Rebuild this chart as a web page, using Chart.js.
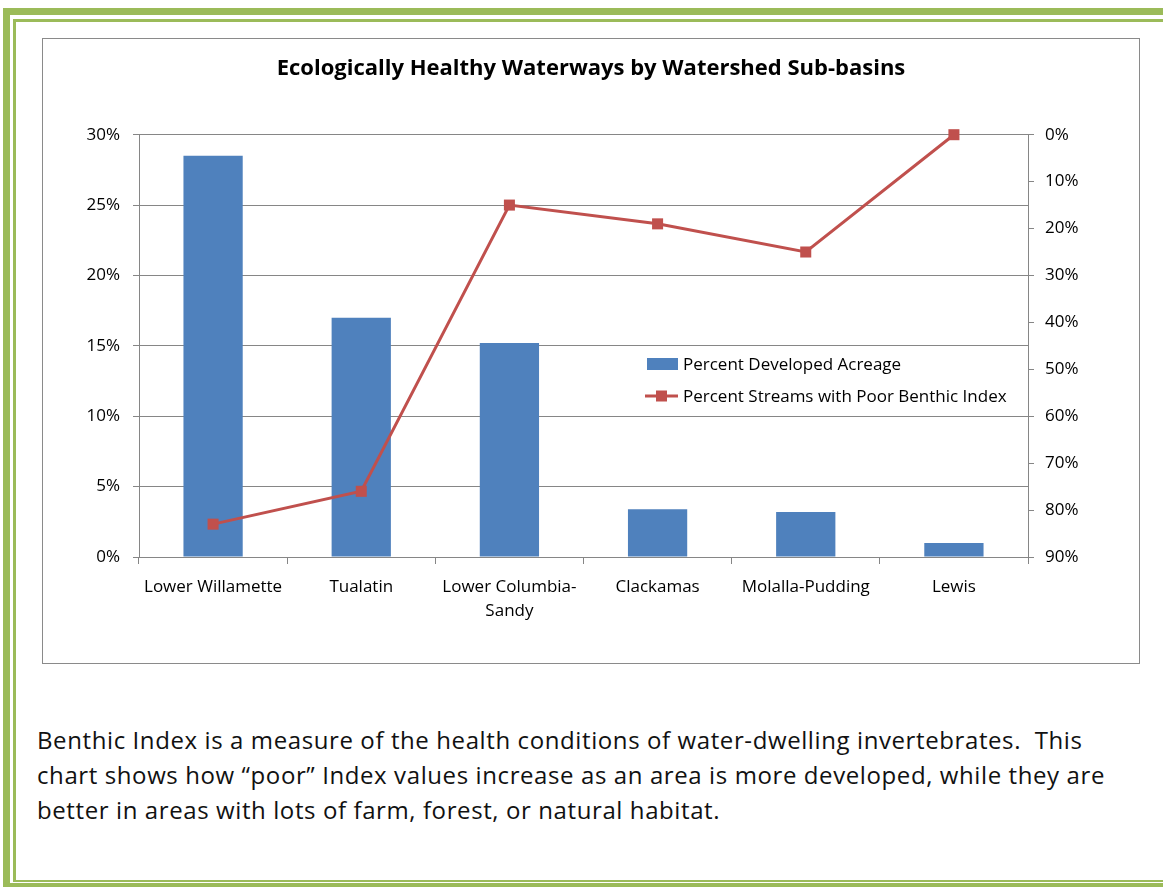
<!DOCTYPE html>
<html>
<head>
<meta charset="utf-8">
<script src="https://cdn.jsdelivr.net/npm/chart.js@4.4.1/dist/chart.umd.min.js"></script>
<style>
    html, body { margin: 0; padding: 0; background: #fff; }
    body { width: 1163px; height: 887px; position: relative; overflow: hidden; font-family: "Open Sans", sans-serif; }
    .frame-thick { position: absolute; left: 3px; top: 8px; width: 1200px; height: 882px; box-sizing: border-box; border: 7px solid #9bbb59; }
    .frame-thin  { position: absolute; left: 13px; top: 19px; width: 1200px; height: 863px; box-sizing: border-box; border: 3px solid #9bbb59; border-bottom-width: 2px; }
    .chart-box { position: absolute; left: 42px; top: 38px; width: 1098px; height: 626px; box-sizing: border-box; border: 1px solid #8a8a8a; background: #fff; }
    .chart-box canvas { display: block; }
    .note { position: absolute; left: 37px; top: 722px; width: 1120px; margin: 0; font-size: 24px; letter-spacing: 0.6px; line-height: 35px; color: #111; white-space: nowrap; }
</style>
</head>
<body>
<div class="frame-thick"></div>
<div class="frame-thin"></div>
<div class="chart-box"><canvas id="waterChart" width="1096" height="624"></canvas></div>
<p class="note">Benthic Index is a measure of the health conditions of water-dwelling invertebrates.&nbsp; This<br>chart shows how “poor” Index values increase as an area is more developed, while they are<br>better in areas with lots of farm, forest, or natural habitat.</p>

<script>
// ── Data ─────────────────────────────────────────────────────────────────────
const SUBBASINS    = ['Lower Willamette', 'Tualatin', ['Lower Columbia-', 'Sandy'], 'Clackamas', 'Molalla-Pudding', 'Lewis'];
const DEVELOPED    = [28.5, 17.0, 15.2, 3.4, 3.2, 1.0];   // % developed acreage (left axis)
const POOR_BENTHIC = [83, 76, 15, 19, 25, 0];             // % streams w/ poor benthic index (right axis, reversed)
const LEFT_TICKS   = [0, 5, 10, 15, 20, 25, 30];
const RIGHT_TICKS  = [0, 10, 20, 30, 40, 50, 60, 70, 80, 90];

const SERIES_NAMES = ['Percent Developed Acreage', 'Percent Streams with Poor Benthic Index'];
const BLUE = '#4f81bd';
const RED  = '#c0504d';
const GRID = '#868686';
const FONT = '"Open Sans", sans-serif';

// Legend sits inside the plot area, like Excel does it.
const legendInPlot = {
    id: 'legendInPlot',
    afterDatasetsDraw(chart) {
        const ctx = chart.ctx;
        const x = 602, y1 = 325, y2 = 357;
        ctx.save();
        ctx.font = `17px ${FONT}`;
        ctx.textBaseline = 'middle';

        ctx.fillStyle = BLUE;
        ctx.fillRect(x + 2, y1 - 6, 31, 12);
        ctx.fillStyle = '#000';
        ctx.fillText(SERIES_NAMES[0], x + 38, y1 + 1);

        ctx.strokeStyle = RED;
        ctx.lineWidth = 3;
        ctx.beginPath(); ctx.moveTo(x, y2); ctx.lineTo(x + 33, y2); ctx.stroke();
        ctx.fillStyle = RED;
        ctx.fillRect(x + 11, y2 - 5.5, 11, 11);
        ctx.fillStyle = '#000';
        ctx.fillText(SERIES_NAMES[1], x + 38, y2 + 1);
        ctx.restore();
    },
};

new Chart(document.getElementById('waterChart'), {
    type: 'bar',
    data: {
        labels: SUBBASINS,
        datasets: [
            {
                type: 'line', label: SERIES_NAMES[1], data: POOR_BENTHIC, yAxisID: 'y1', order: 0,
                borderColor: RED, borderWidth: 3, tension: 0, clip: false,
                pointStyle: 'rect', pointRadius: 7.8, pointBackgroundColor: RED, pointBorderColor: RED, pointBorderWidth: 0,
            },
            {
                type: 'bar', label: SERIES_NAMES[0], data: DEVELOPED, yAxisID: 'y', order: 1,
                backgroundColor: BLUE, categoryPercentage: 1, barPercentage: 0.4,
            },
        ],
    },
    plugins: [legendInPlot],
    options: {
        responsive: false,
        animation: false,
        layout: { padding: { left: 0, right: 0, top: 0, bottom: 0 } },
        plugins: {
            legend: { display: false },
            tooltip: { enabled: false },
            title: {
                display: true,
                text: 'Ecologically Healthy Waterways by Watershed Sub-basins',
                color: '#000',
                font: { family: FONT, size: 22, weight: 'bold', lineHeight: 1.2 },
                padding: { top: 16.8, bottom: 52.5 },
            },
        },
        scales: {
            x: {
                grid: { offset: true, drawOnChartArea: false, color: GRID, tickLength: 7 },
                border: { color: GRID },
                ticks: { color: '#000', font: { family: FONT, size: 17, lineHeight: 1.42 }, padding: 11, maxRotation: 0, autoSkip: false },
                afterFit: (s) => { s.height = 106; },
            },
            y: {
                position: 'left', min: 0, max: 30,
                afterBuildTicks: (s) => { s.ticks = LEFT_TICKS.map(v => ({ value: v })); },
                grid: { color: GRID, tickLength: 6 },
                border: { color: GRID },
                ticks: { color: '#000', font: { family: FONT, size: 17 }, padding: 13, callback: (v) => v + '%' },
                afterFit: (s) => { s.width = 96; },
            },
            y1: {
                position: 'right', min: 0, max: 90, reverse: true,
                afterBuildTicks: (s) => { s.ticks = RIGHT_TICKS.map(v => ({ value: v })); },
                grid: { drawOnChartArea: false, color: GRID, tickLength: 6 },
                border: { color: GRID },
                ticks: { color: '#000', font: { family: FONT, size: 17 }, padding: 11, callback: (v) => v + '%' },
                afterFit: (s) => { s.width = 111; },
            },
        },
    },
});
</script>
</body>
</html>
